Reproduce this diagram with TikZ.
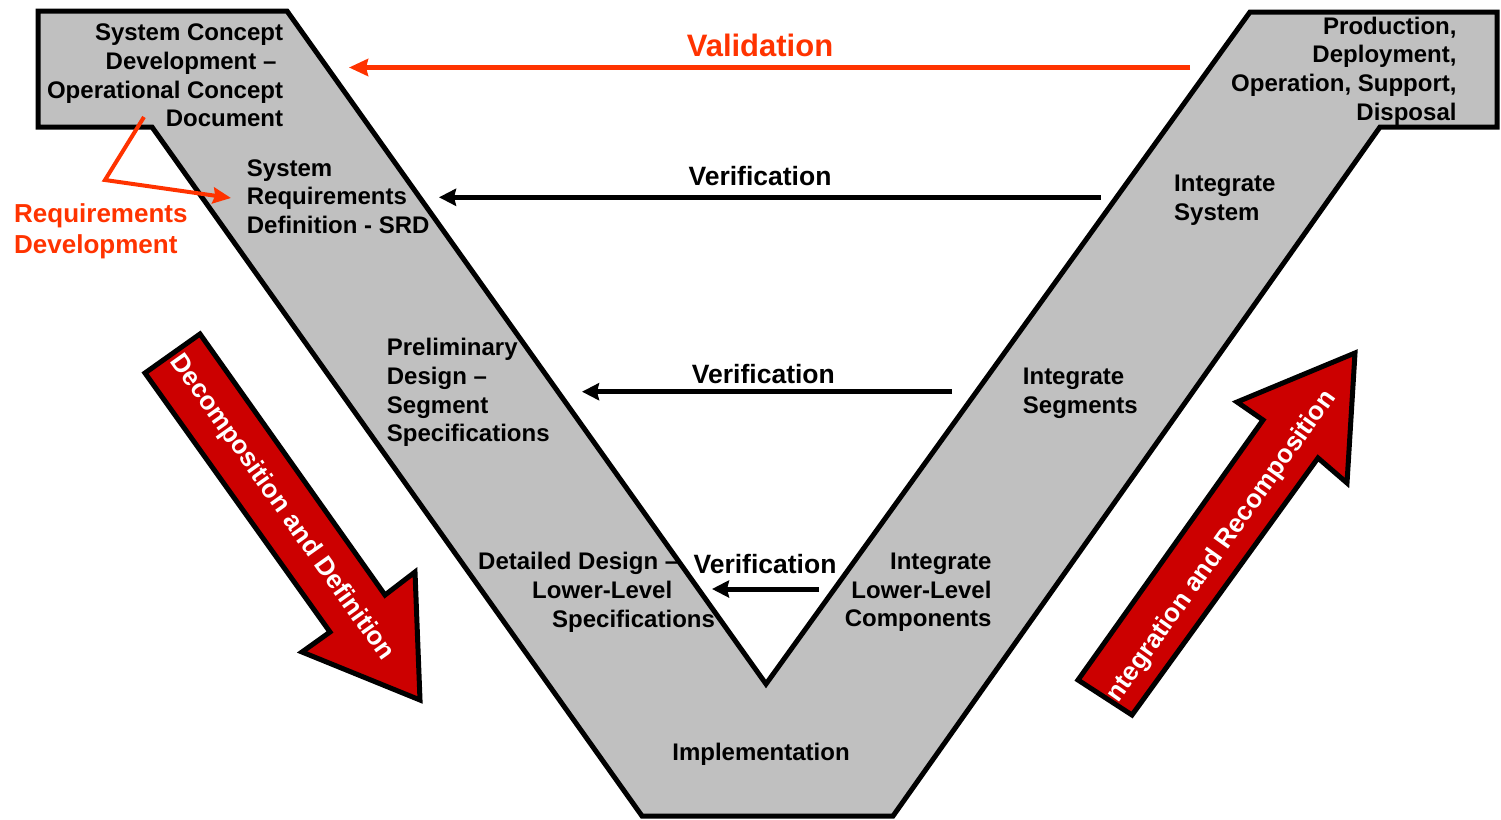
\documentclass[tikz,border=0pt]{standalone}
\usepackage{fontspec}
\setmainfont{Liberation Sans}
\usetikzlibrary{arrows.meta}
\definecolor{vgray}{RGB}{192,192,192}
\definecolor{vred}{RGB}{204,0,0}
\definecolor{vorange}{RGB}{255,51,0}
\begin{document}
\begin{tikzpicture}[x=1pt,y=-1pt,
  lbl/.style={font=\fontsize{24}{28.6}\selectfont\bfseries, inner sep=0pt},
  verlbl/.style={font=\fontsize{26.5}{30}\selectfont\bfseries, inner sep=0pt},
  reqlbl/.style={font=\fontsize{26}{30.5}\selectfont\bfseries, inner sep=0pt, text=vorange},
  vallbl/.style={font=\fontsize{31}{36}\selectfont\bfseries, inner sep=0pt, text=vorange},
  arrowlbl/.style={font=\fontsize{26}{30}\selectfont\bfseries, inner sep=0pt, text=white},
  verarrow/.style={line width=5pt, -{Stealth[length=17pt,width=17pt,inset=2pt]}},
  valarrow/.style={draw=vorange, line width=5pt, -{Stealth[length=19pt,width=17pt,inset=2pt]}},
  reqarrow/.style={draw=vorange, line width=4pt, line join=miter, -{Stealth[length=18pt,width=16pt,inset=2pt]}},
  bigarrow/.style={draw=black, fill=vred, line width=5pt, line join=miter},
  vshape/.style={draw=black, fill=vgray, line width=5pt, line join=miter}]
\useasboundingbox (0,0) rectangle (1501,819);

% V body
\path[vshape] (38,11) -- (287,11) -- (766,684) -- (1250,12) -- (1497,12) -- (1497,127)
  -- (1380,127) -- (893,816) -- (642,816) -- (152,127) -- (38,127) -- cycle;

% big red arrows
\path[bigarrow] (145,373) -- (200,334) -- (385,595) -- (415,572) -- (420,700) -- (302,652) -- (330,632) -- cycle;
\node[arrowlbl, rotate=-54.7] (decomp) at (281.7,507.7) {Decomposition and Definition};

\path[bigarrow] (1078,680) -- (1263,420) -- (1237,402) -- (1355,353) -- (1347,483) -- (1318,458) -- (1132,715) -- cycle;
\node[arrowlbl, rotate=54.6] (integ) at (1222,546.5) {ntegration and Recomposition};

% labels in the V (anchor = baseline of the last line)
\node[lbl, align=right, anchor=base east] (scd) at (283.3,126.7)
  {System Concept\\Development –\hbox to 6.7pt{}\\Operational Concept\\Document};
\node[lbl, align=left, anchor=base west] (srd) at (246.7,233.3)
  {System\\Requirements\\Definition - SRD};
\node[lbl, align=left, anchor=base west] (prelim) at (386.7,441.7)
  {Preliminary\\Design –\\Segment\\Specifications};
\node[lbl, align=left, anchor=base west] (detail) at (478,627)
  {Detailed Design –\\\hspace*{54pt}Lower-Level\\\hspace*{74pt}Specifications};
\node[lbl, anchor=base] (impl) at (761,760) {Implementation};
\node[lbl, align=right, anchor=base east] (intlow) at (991.7,626.7)
  {Integrate\\Lower-Level\\Components};
\node[lbl, align=left, anchor=base west] (intseg) at (1022.7,413)
  {Integrate\\Segments};
\node[lbl, align=left, anchor=base west] (intsys) at (1174,220)
  {Integrate\\System};
\node[lbl, align=right, anchor=base east] (prod) at (1456.7,120)
  {Production,\\Deployment,\\Operation, Support,\\Disposal};

% requirements development
\node[reqlbl, align=left, anchor=base west] (reqdev) at (14,253)
  {Requirements\\Development};
\coordinate (rq1) at (144,117);
\coordinate (rq2) at (105,180);
\coordinate (rq3) at (231,198);
\draw[reqarrow] (rq1) -- (rq2) -- (rq3);

% validation
\node[vallbl, anchor=base] (val) at (760,56.7) {Validation};
\coordinate (val1) at (1190,67.5);
\coordinate (val2) at (349,67.5);
\draw[valarrow] (val1) -- (val2);

% verifications
\node[verlbl, anchor=base] (ver1) at (760,185.5) {Verification};
\coordinate (v1a) at (1101,197.3);
\coordinate (v1b) at (439,197.3);
\draw[verarrow] (v1a) -- (v1b);

\node[verlbl, anchor=base] (ver2) at (763.4,383.5) {Verification};
\coordinate (v2a) at (952,391.7);
\coordinate (v2b) at (582,391.7);
\draw[verarrow] (v2a) -- (v2b);

\node[verlbl, anchor=base] (ver3) at (765,573) {Verification};
\coordinate (v3a) at (819,589);
\coordinate (v3b) at (712,589);
\draw[verarrow] (v3a) -- (v3b);
\end{tikzpicture}
\end{document}
